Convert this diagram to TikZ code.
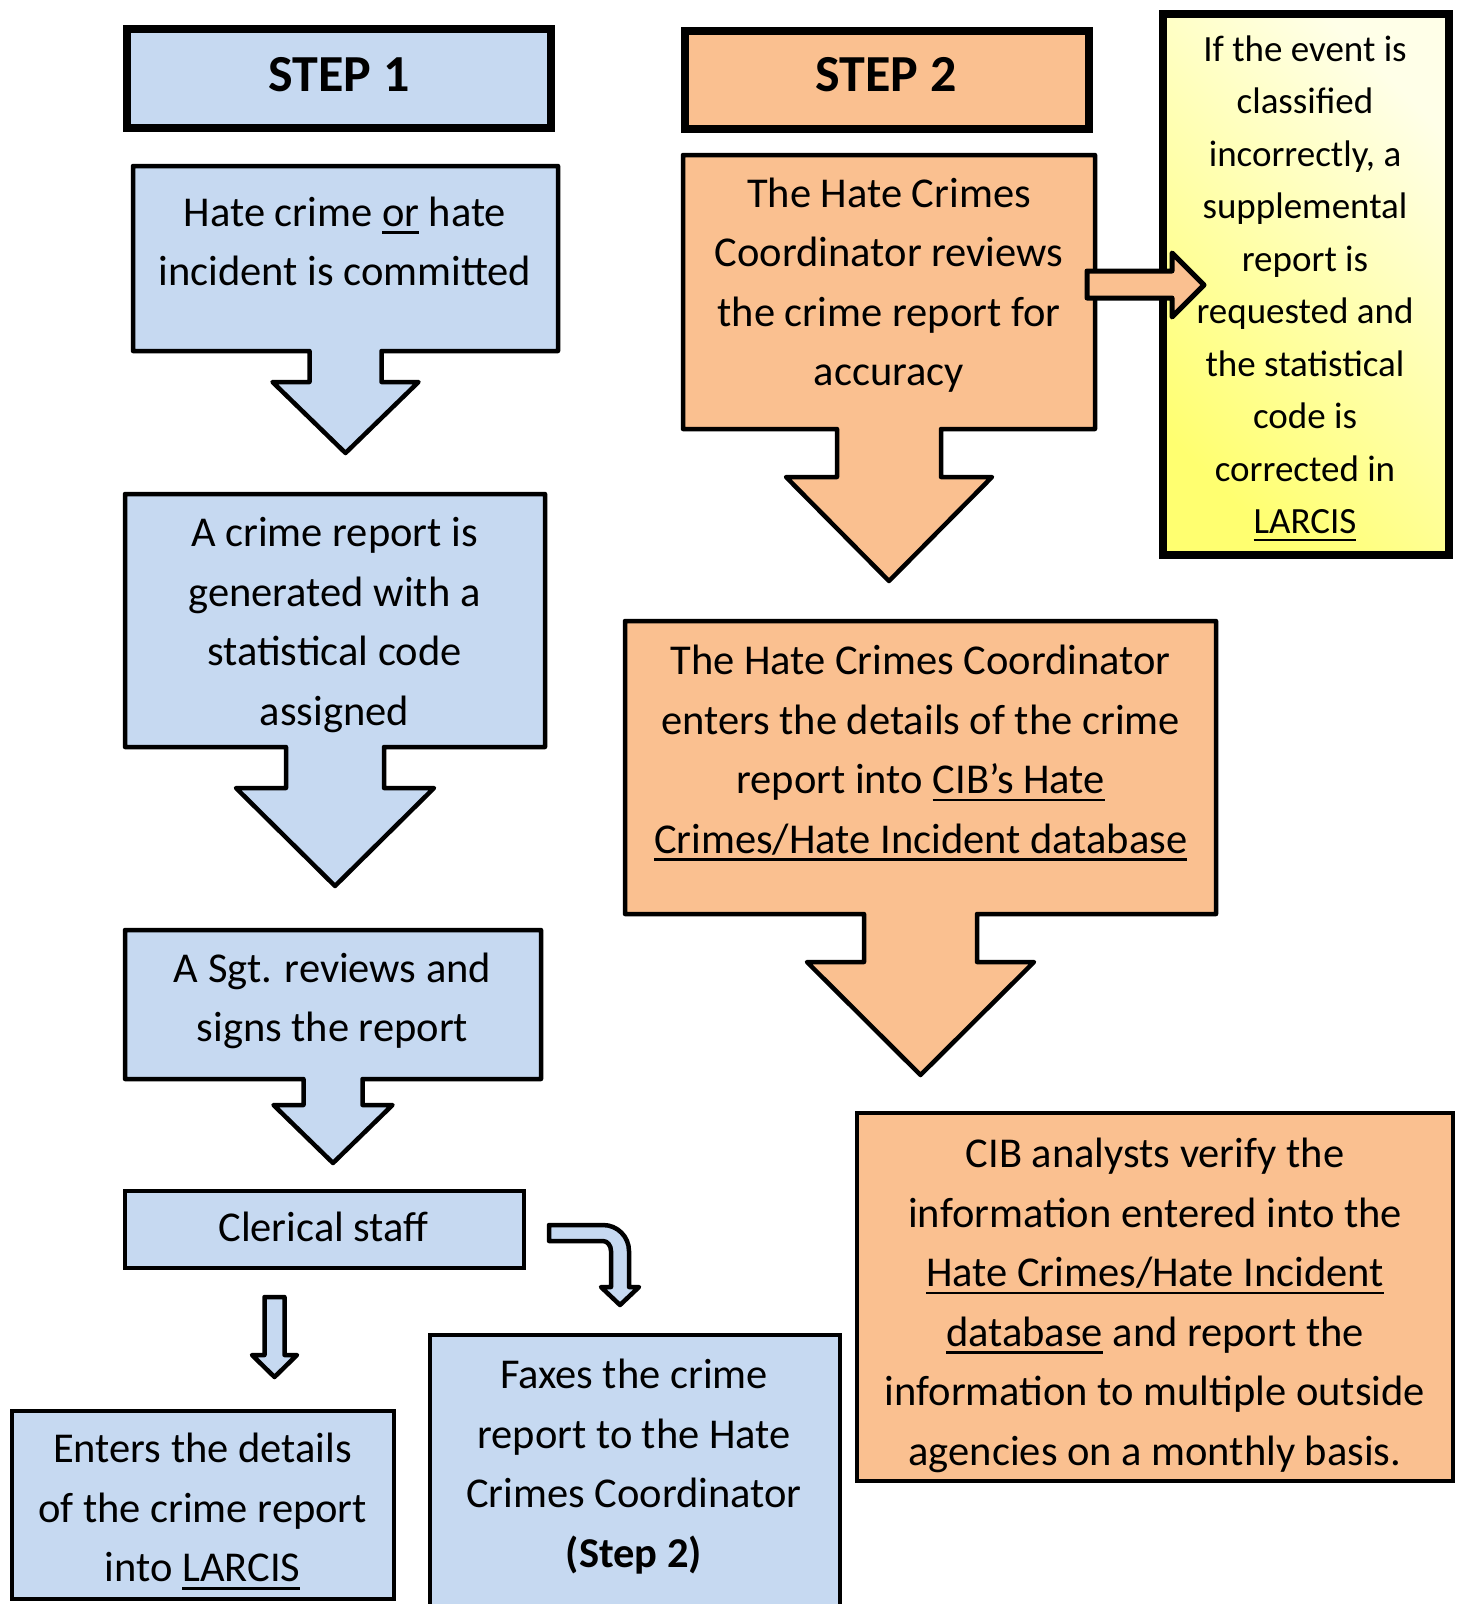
\documentclass[tikz,border=0pt]{standalone}
\usepackage{fontspec}
\setmainfont{Carlito}
\usepackage{tikz}
\usetikzlibrary{calc,shadows}

\definecolor{boxblue}{HTML}{C6D9F1}
\definecolor{boxorange}{HTML}{FAC090}
\definecolor{notedeep}{HTML}{FFFF70}
\definecolor{notepale}{HTML}{FFFFE8}

\newsavebox{\undlbox}
\newcommand{\undl}[1]{\sbox\undlbox{#1}\rlap{\rule[-7.6pt]{\wd\undlbox}{2.6pt}}\usebox\undlbox}

\pgfdeclarelayer{background}
\pgfsetlayers{background,main}

% box with a down arrow under it: node, colour, stem, head, head drop, tip drop
\newcommand{\arrowbox}[6]{%
  \begin{pgfonlayer}{background}
    \draw[line width=4.5pt, line join=round, fill=#2] (#1.north west) -- (#1.north east) -- (#1.south east)
      -- ($(#1.south)+(#3,0)$) -- ($(#1.south)+(#3,#5)$) -- ($(#1.south)+(#4,#5)$)
      -- ($(#1.south)+(0,#6)$) -- ($(#1.south)+(-#4,#5)$) -- ($(#1.south)+(-#3,#5)$)
      -- ($(#1.south)+(-#3,0)$) -- (#1.south west) -- cycle;
  \end{pgfonlayer}}

\begin{document}
\begin{tikzpicture}[x=1pt, y=-1pt,
    plainbox/.style={draw, line width=4.5pt, inner sep=0pt, outer sep=0pt},
    stepbox/.style={draw, line width=8pt, inner sep=0pt, outer sep=0pt},
    shapebox/.style={inner sep=0pt, outer sep=0pt},
    txt/.style={font=\fontsize{42.5}{59.5}\selectfont, align=center, inner sep=0pt},
    notetxt/.style={font=\fontsize{37}{52.5}\selectfont, align=center, inner sep=0pt},
    steptxt/.style={font=\fontsize{52}{60}\selectfont\bfseries, inner sep=0pt},
    blockarrow/.style={draw, line width=4.5pt, line join=round}]
     \useasboundingbox (0,0) rectangle (1463,1604);
     \clip (0,0) rectangle (1463,1604);

      % step 1
      \node[stepbox, fill=boxblue, minimum width=424pt, minimum height=99pt] (step1) at (339,78.5) {};
      \node[steptxt] (step1txt) at (339,75) {STEP 1};
      \node[shapebox, minimum width=425pt, minimum height=185pt] (committed) at (345.5,258.5) {};
      \arrowbox{committed}{boxblue}{36}{73}{31}{102}
      \node[txt] (committedtxt) at (345,241.5) {Hate crime \undl{or} hate\\incident is committed};
      \node[shapebox, minimum width=420pt, minimum height=253pt] (report) at (335,620.5) {};
      \arrowbox{report}{boxblue}{49}{99}{41}{139}
      \node[txt] (reporttxt) at (334.5,625) {A crime report is\\generated with a\\statistical code\\assigned};
      \node[shapebox, minimum width=416pt, minimum height=149pt] (sgt) at (333,1004.5) {};
      \arrowbox{sgt}{boxblue}{29.5}{59.5}{26}{84}
      \node[txt] (sgttxt) at (332.5,1001) {A Sgt. reviews and\\signs the report};
      \node[plainbox, fill=boxblue, minimum width=399pt, minimum height=77pt] (clerical) at (324.5,1229.5) {};
      \node[txt] (clericaltxt) at (323.5,1226.5) {Clerical staff};
      \node[plainbox, fill=boxblue, minimum width=382pt, minimum height=188pt] (larcis) at (203,1505) {};
      \node[txt] (larcistxt) at (202.5,1511.5) {Enters the details\\of the crime report\\into \undl{LARCIS}};
      \node[plainbox, fill=boxblue, minimum width=410pt, minimum height=290pt] (faxes) at (635,1480) {};
      \node[txt] (faxestxt) at (634,1466.5) {Faxes the crime\\report to the Hate\\Crimes Coordinator\\\textbf{(Step 2)}};
      \draw[blockarrow, fill=boxblue] (264.5,1297) -- (284.5,1297) -- (284.5,1355) -- (297,1355)
        -- (274.5,1377) -- (252,1355) -- (264.5,1355) -- cycle;
      \draw[blockarrow, fill=boxblue] (549,1225) -- (603,1225) .. controls (617.4,1225) and (629,1236.6) .. (629,1251)
        -- (629,1287) -- (639,1287) -- (620,1305) -- (601,1287) -- (611,1287) -- (611,1251)
        .. controls (611,1245.5) and (607.4,1241) .. (603,1241) -- (549,1241) -- cycle;

      % step 2
      \node[stepbox, fill=boxorange, minimum width=404pt, minimum height=98pt] (step2) at (887,80) {};
      \node[steptxt] (step2txt) at (886,75) {STEP 2};
      \node[shapebox, minimum width=412pt, minimum height=274pt] (reviews) at (889,292) {};
      \arrowbox{reviews}{boxorange}{52}{103}{48}{152}
      \node[txt] (reviewstxt) at (889,285) {The Hate Crimes\\Coordinator reviews\\the crime report for\\accuracy};
      \node[stepbox, left color=notedeep, right color=notepale, shading angle=135,
        drop shadow={shadow xshift=3pt, shadow yshift=-4pt, opacity=0.3},
        minimum width=286pt, minimum height=541pt] (note) at (1306,284.5) {};
      \node[notetxt] (notetxt) at (1305,288.5) {If the event is\\classified\\incorrectly, a\\supplemental\\report is\\requested and\\the statistical\\code is\\corrected in\\\undl{LARCIS}};
      \draw[blockarrow, line width=5pt, fill=boxorange] (1087,271) -- (1172,271) -- (1172,253) -- (1204,285)
        -- (1172,317) -- (1172,298) -- (1087,298) -- cycle;
      \node[shapebox, minimum width=591pt, minimum height=293pt] (enters) at (920.5,767.5) {};
      \arrowbox{enters}{boxorange}{56.5}{113.5}{48}{161}
      \node[txt] (enterstxt) at (920.6,753) {The Hate Crimes Coordinator\\enters the details of the crime\\report into \undl{CIB’s Hate}\\\undl{Crimes/Hate Incident database}};
      \node[plainbox, fill=boxorange, minimum width=596pt, minimum height=368pt] (verify) at (1155,1297) {};
      \node[txt] (verifytxt) at (1155,1305.5) {CIB analysts verify the\\information entered into the\\\undl{Hate Crimes/Hate Incident}\\\undl{database} and report the\\information to multiple outside\\agencies on a monthly basis.};

\end{tikzpicture}
\end{document}
